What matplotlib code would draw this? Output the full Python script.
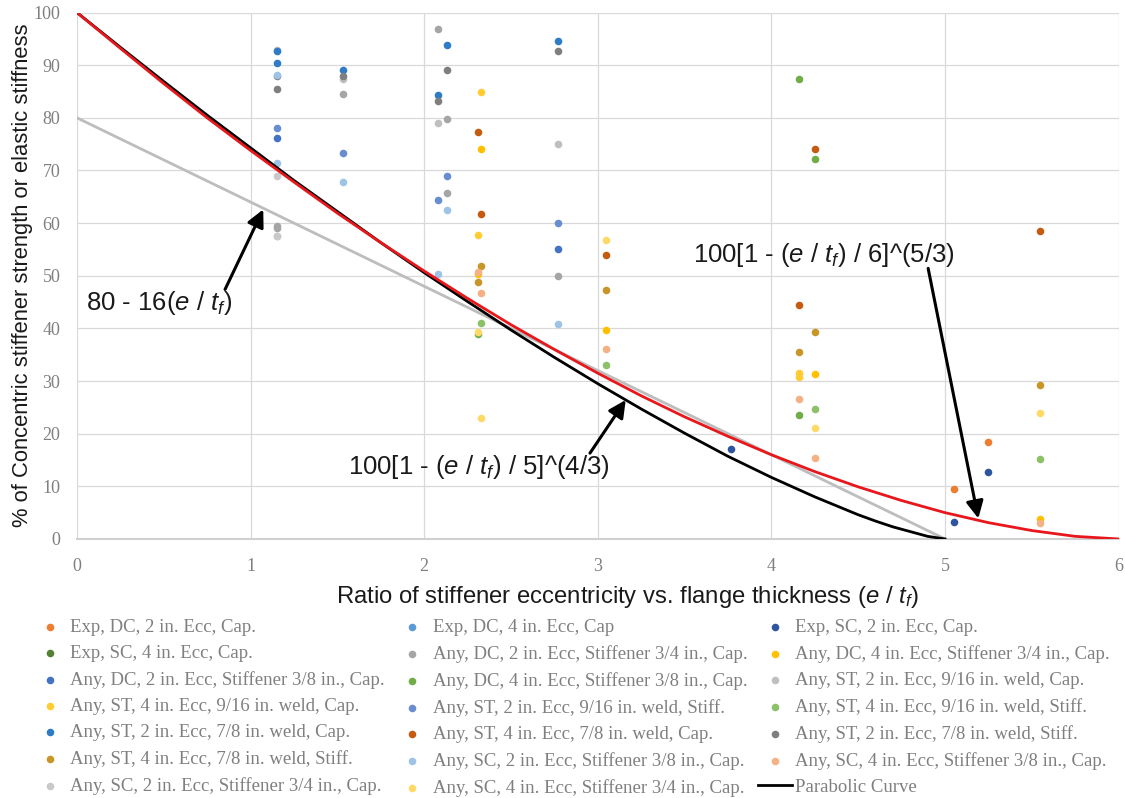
import matplotlib.pyplot as plt

# scatter series (Excel order)
labels = [
    'Exp, DC, 2 in. Ecc, Cap.',
    'Exp, DC, 4 in. Ecc, Cap',
    'Exp, SC, 2 in. Ecc, Cap.',
    'Exp, SC, 4 in. Ecc, Cap.',
    'Any, DC, 2 in. Ecc, Stiffener 3/4 in., Cap.',
    'Any, DC, 4 in. Ecc, Stiffener 3/4 in., Cap.',
    'Any, DC, 2 in. Ecc, Stiffener 3/8 in., Cap.',
    'Any, DC, 4 in. Ecc, Stiffener 3/8 in., Cap.',
    'Any, ST, 2 in. Ecc, 9/16 in. weld, Cap.',
    'Any, ST, 4 in. Ecc, 9/16 in. weld, Cap.',
    'Any, ST, 2 in. Ecc, 9/16 in. weld, Stiff.',
    'Any, ST, 4 in. Ecc, 9/16 in. weld, Stiff.',
    'Any, ST, 2 in. Ecc, 7/8 in. weld, Cap.',
    'Any, ST, 4 in. Ecc, 7/8 in. weld, Cap.',
    'Any, ST, 2 in. Ecc, 7/8 in. weld, Stiff.',
    'Any, ST, 4 in. Ecc, 7/8 in. weld, Stiff.',
    'Any, SC, 2 in. Ecc, Stiffener 3/8 in., Cap.',
    'Any, SC, 4 in. Ecc, Stiffener 3/8 in., Cap.',
    'Any, SC, 2 in. Ecc, Stiffener 3/4 in., Cap.',
    'Any, SC, 4 in. Ecc, Stiffener 3/4 in., Cap.',
]
colors = ['#ED7D31', '#5B9BD5', '#2F55A0', '#548235', '#A5A5A5', '#FFC000',
          '#4472C4', '#70AD47', '#BFBFBF', '#FFCD33', '#698ED0', '#8CC168',
          '#2E7BC6', '#C55A11', '#7F7F7F', '#C89628', '#9DC3E6', '#F4B183',
          '#C9C9C9', '#FFD966']

xs = [
    [5.05, 5.25],
    [],
    [3.77, 5.05, 5.25],
    [],
    [2.08, 1.53, 2.13, 2.13, 2.77, 1.15, 1.15],
    [2.33, 3.05, 4.25, 5.55, 2.31],
    [2.77, 1.15],
    [4.16, 4.25, 4.16, 2.31],
    [1.15, 1.53, 2.08, 2.77, 1.15],
    [2.33, 2.31, 4.16, 4.16],
    [1.15, 1.53, 2.13, 2.08, 2.77],
    [2.33, 3.05, 4.25, 5.55],
    [1.15, 1.15, 1.53, 2.13, 2.08, 2.77],
    [2.31, 2.33, 3.05, 4.25, 4.16, 5.55],
    [1.15, 1.15, 1.53, 2.13, 2.08, 2.77],
    [2.33, 2.31, 3.05, 4.25, 4.16, 5.55],
    [1.15, 1.15, 1.53, 2.13, 2.08, 2.77],
    [2.31, 2.33, 3.05, 4.16, 4.25, 5.55],
    [1.15, 1.15],
    [2.31, 2.33, 3.05, 4.25, 5.55],
]
ys = [
    [9.5, 18.4],
    [],
    [17.0, 3.2, 12.8],
    [],
    [96.8, 84.5, 79.7, 65.7, 50.0, 59.4, 59.0],
    [74.1, 39.7, 31.3, 3.7, 50.3],
    [55.0, 76.2],
    [87.4, 72.2, 23.6, 39.0],
    [92.9, 87.3, 79.1, 75.1, 57.6],
    [84.9, 57.8, 31.5, 30.8],
    [78.0, 73.4, 69.0, 64.4, 60.0],
    [41.0, 33.0, 24.7, 15.1],
    [92.6, 90.4, 89.1, 93.9, 84.4, 94.5],
    [77.4, 61.7, 54.0, 74.1, 44.4, 58.5],
    [87.9, 85.5, 88.0, 89.1, 83.2, 92.7],
    [51.9, 48.8, 47.3, 39.4, 35.6, 29.3],
    [88.1, 71.5, 67.8, 62.4, 50.4, 40.8],
    [50.8, 46.7, 36.0, 26.6, 15.3, 3.0],
    [69.0, 57.6],
    [39.4, 23.0, 56.7, 21.0, 23.9],
]

# curves
parab_x = [0, 0.25, 0.5, 0.75, 1, 1.25, 1.5, 1.75, 2, 2.25, 2.5, 2.75, 3,
           3.25, 3.5, 3.75, 4, 4.25, 4.5, 4.6, 4.7, 4.8, 4.9, 5]
parab_y = [100, 93.4, 86.9, 80.5, 74.3, 68.1, 62.2, 56.3, 50.6, 45.1, 39.7,
           34.5, 29.5, 24.7, 20.1, 15.7, 11.7, 8.0, 4.6, 3.4, 2.3, 1.4, 0.5, 0]
red_x = [0, 0.25, 0.5, 0.75, 1, 1.25, 1.5, 1.75, 2, 2.25, 2.5, 2.75, 3,
         3.25, 3.5, 3.75, 4, 4.25, 4.5, 4.75, 5, 5.25, 5.5, 5.75, 6]
red_y = [100, 93.2, 86.5, 80.0, 73.8, 67.8, 61.9, 56.3, 50.9, 45.7, 40.7,
         36.0, 31.5, 27.2, 23.2, 19.5, 16.0, 12.8, 9.9, 7.3, 5.0, 3.1, 1.6,
         0.5, 0]
lin_x = [0, 5]
lin_y = [80, 0]

plt.rcParams['font.family'] = 'Liberation Sans'
plt.rcParams['mathtext.fontset'] = 'custom'
plt.rcParams['mathtext.rm'] = 'Liberation Sans'
plt.rcParams['mathtext.it'] = 'Liberation Sans:italic'

fig = plt.figure(figsize=(11.25, 7.98), dpi=100)
ax = fig.add_axes([0.0684, 0.3246, 0.9259, 0.6597])

handles = []
for x, y, c, lab in zip(xs, ys, colors, labels):
    h = ax.scatter(x, y, s=30, color=c, label=lab, zorder=3, linewidths=0)
    handles.append(h)

ax.plot(lin_x, lin_y, color='#BDBDBD', lw=2, zorder=4)
black, = ax.plot(parab_x, parab_y, color='black', lw=2, zorder=5, label='Parabolic Curve')
ax.plot(red_x, red_y, color='#E8171C', lw=2, zorder=6)
handles.append(black)

ax.set_xlim(0, 6)
ax.set_ylim(0, 100)
ax.set_xticks(range(0, 7))
ax.set_yticks(range(0, 101, 10))
ax.grid(True, color='#D9D9D9', lw=0.9)
ax.set_axisbelow(True)
for s in ['top', 'right', 'left']:
    ax.spines[s].set_visible(False)
ax.spines['bottom'].set_color('#D0D0D0')
ax.spines['bottom'].set_linewidth(1.5)
ax.tick_params(length=0, labelsize=13, labelcolor='#7F7F7F')
ax.tick_params(axis='x', pad=14)
ax.tick_params(axis='y', pad=12)
for t in ax.get_xticklabels() + ax.get_yticklabels():
    t.set_family('Liberation Serif')

ax.set_xlabel(r'Ratio of stiffener eccentricity vs. flange thickness ($e$ / $t_f$)',
              fontsize=17.2, color='#1a1a1a')
ax.xaxis.set_label_coords(0.5285, -0.085)
ax.set_ylabel('% of Concentric stiffener strength or elastic stiffness',
              fontsize=15.8, color='#1a1a1a', labelpad=0)

# formula labels and arrows
ax.text(0.055, 43.4, r'80 - 16($e$ / $t_f$)', fontsize=18.5, color='#1a1a1a')
ax.text(1.56, 12.3, r'100[1 - ($e$ / $t_f$) / 5]^(4/3)', fontsize=18.5, color='#1a1a1a')
ax.text(3.55, 52.6, r'100[1 - ($e$ / $t_f$) / 6]^(5/3)', fontsize=18.5, color='#1a1a1a')
arrow = dict(arrowstyle='-|>', lw=2.2, color='black', mutation_scale=26,
             shrinkA=0, shrinkB=0)
ax.annotate('', xy=(1.073, 62.6), xytext=(0.853, 47.4), arrowprops=arrow, zorder=7)
ax.annotate('', xy=(3.161, 26.4), xytext=(2.955, 16.3), arrowprops=arrow, zorder=7)
ax.annotate('', xy=(5.192, 3.9), xytext=(4.903, 51.4), arrowprops=arrow, zorder=7)

# Excel-style legend fills rows first
all_labels = labels + ['Parabolic Curve']
order = [i for col in range(3) for i in range(col, 21, 3)]
leg = fig.legend([handles[i] for i in order], [all_labels[i] for i in order],
                 loc='upper left', bbox_to_anchor=(0.0293, 1 - 619 / 798),
                 ncol=3, frameon=False, borderpad=0, borderaxespad=0,
                 handlelength=1.8, handletextpad=0.2, columnspacing=0.55,
                 labelspacing=0.48, prop={'family': 'Liberation Serif', 'size': 13.5})
for t in leg.get_texts():
    t.set_color('#7F7F7F')

fig.savefig('out.png', dpi=100)
